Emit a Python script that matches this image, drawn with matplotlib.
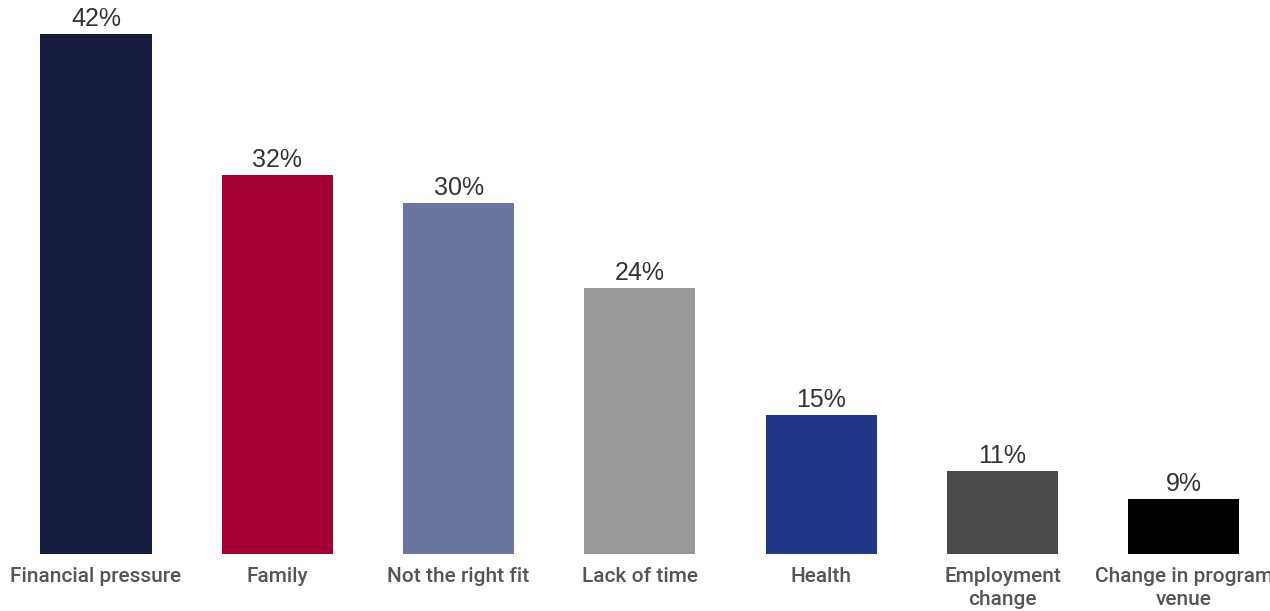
import matplotlib
matplotlib.use("Agg")
import matplotlib.pyplot as plt

categories = ["Financial pressure", "Family", "Not the right fit", "Lack of time",
              "Health", "Employment\nchange", "Change in program\nvenue"]
values = [42, 32, 30, 24, 15, 11, 9]
value_labels = ["42%", "32%", "30%", "24%", "15%", "11%", "9%"]
colors = ["#161d40", "#a50034", "#6b76a0", "#999999", "#203688", "#4a4a4a", "#000000"]

W, H = 1270, 611
fig = plt.figure(figsize=(W / 100, H / 100), dpi=100)
base_px = 554
ax = fig.add_axes([0, (H - base_px) / H, 1, base_px / H])
ymin = 5.1
px_per = 14.09
ax.set_ylim(ymin, ymin + base_px / px_per)
spacing = 181.3
ax.set_xlim(-96 / spacing, (W - 96) / spacing)

x = list(range(len(categories)))
ax.bar(x, values, width=111 / spacing, color=colors, bottom=0)

for xi, v, lab in zip(x, values, value_labels):
    ax.annotate(lab, (xi, v), xytext=(0, 2), textcoords="offset points",
                ha="center", va="bottom", fontsize=18, color="#333333",
                family=["Liberation Sans", "DejaVu Sans"])

for xi, cat in zip(x, categories):
    ax.annotate(cat, (xi, ymin), xytext=(0, -9), textcoords="offset points",
                ha="center", va="top", fontsize=15, color="#555555",
                family=["Roboto", "DejaVu Sans"], fontweight="medium",
                linespacing=1.3, annotation_clip=False)

ax.axis("off")
fig.savefig("out.png", dpi=100)
